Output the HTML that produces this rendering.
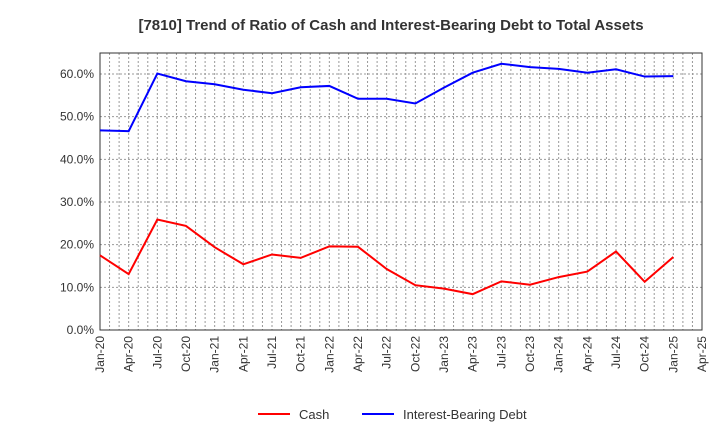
<!DOCTYPE html>
<html><head><meta charset="utf-8"><style>
body{margin:0;background:#fff;font-family:"Liberation Sans",sans-serif}
</style></head><body>
<svg id="c" width="720" height="440" xmlns="http://www.w3.org/2000/svg">
<text x="391" y="30" text-anchor="middle" font-size="15" font-weight="bold" fill="#333">[7810]  Trend of Ratio of Cash and Interest-Bearing Debt to Total Assets</text>
<g id="grid"></g><g id="axes"></g><g id="series"></g>
<g>
<line x1="258" y1="414" x2="290" y2="414" stroke="#f00" stroke-width="2"/>
<text x="299" y="419" font-size="13" fill="#333">Cash</text>
<line x1="362" y1="414" x2="394" y2="414" stroke="#00f" stroke-width="2"/>
<text x="403" y="419" font-size="13" fill="#333">Interest-Bearing Debt</text>
</g>
</svg>
<script>
const xLabels=["Jan-20","Apr-20","Jul-20","Oct-20","Jan-21","Apr-21","Jul-21","Oct-21","Jan-22","Apr-22","Jul-22","Oct-22","Jan-23","Apr-23","Jul-23","Oct-23","Jan-24","Apr-24","Jul-24","Oct-24","Jan-25","Apr-25"];
const yTicks=[0,10,20,30,40,50,60];
const debt=[46.8,46.6,60.1,58.3,57.6,56.3,55.5,56.9,57.2,54.2,54.2,53.1,56.8,60.3,62.4,61.6,61.2,60.3,61.1,59.4,59.5];
const cash=[17.5,13.1,25.9,24.4,19.4,15.4,17.7,16.9,19.6,19.5,14.3,10.5,9.7,8.4,11.4,10.6,12.4,13.7,18.4,11.3,17.1];
const L=100,R=702,T=53,B=330;
const x=i=>L+i*(R-L)/(xLabels.length-1);
const y=v=>B-v*(B-74)/60;
const ns="http://www.w3.org/2000/svg";
function mk(t,a,p){const e=document.createElementNS(ns,t);for(const k in a)e.setAttribute(k,a[k]);p.appendChild(e);return e;}
const g=document.getElementById('grid'),ax=document.getElementById('axes'),s=document.getElementById('series');
const bg=mk('rect',{x:L,y:T,width:R-L,height:B-T,fill:'#fff',stroke:'#333'},g);


for(let m=0;m<=(xLabels.length-1)*3;m++){
 const xv=x(m/3);
 const gl=mk('line',{x1:xv,x2:xv,y1:T,y2:B,stroke:'#999','stroke-dasharray':'2,2'},g);
 
 
}
for(let i=0;i<xLabels.length;i++){
 const t=mk('text',{x:0,y:0,'font-size':12,fill:'#333','text-anchor':'end',transform:`translate(${x(i)+4},${B+6}) rotate(-90)`},ax);
 t.textContent=xLabels[i];
 
 
}
yTicks.forEach(v=>{
 const gl=mk('line',{x1:L,x2:R,y1:y(v),y2:y(v),stroke:'#999','stroke-dasharray':'2,2'},g);
 
 
 const t=mk('text',{x:L-6,y:y(v)+4,'font-size':12,fill:'#333','text-anchor':'end'},ax);
 t.textContent=v.toFixed(1)+'%';
 
 
});
mk('rect',{x:L,y:T,width:R-L,height:B-T,fill:'none',stroke:'#333'},ax);
function line(d,c,n){
 const p=mk('polyline',{points:d.map((v,i)=>x(i)+','+y(v)).join(' '),fill:'none',stroke:c,'stroke-width':2},s);
 
 
}
line(debt,'#00f','debt-line');
line(cash,'#f00','cash-line');
</script>
</body></html>
